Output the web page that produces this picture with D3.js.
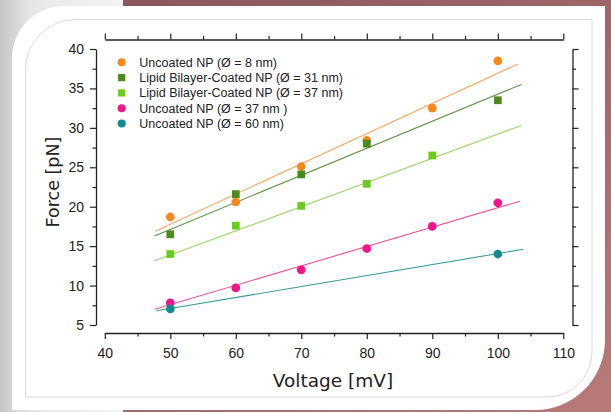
<!DOCTYPE html>
<html>
<head>
<meta charset="utf-8">
<script src="https://cdn.jsdelivr.net/npm/d3@7"></script>
<style>
  body { margin: 0; }
  svg { display: block; }
  .tick text { font-family: 'Liberation Sans', Arial, sans-serif; font-size: 14px; fill: #222; }
  .axisTitle { font-family: 'DejaVu Sans', Verdana, sans-serif; fill: #222; }
  .legendText { font-family: 'Liberation Sans', Arial, sans-serif; font-size: 12.5px; fill: #222; }
</style>
</head>
<body>
<svg id="chart"></svg>
<script>
// series names and colours
const seriesNames = [
  'Uncoated NP (Ø = 8 nm)',
  'Lipid Bilayer-Coated NP (Ø = 31 nm)',
  'Lipid Bilayer-Coated NP (Ø = 37 nm)',
  'Uncoated NP (Ø = 37 nm )',
  'Uncoated NP (Ø = 60 nm)'
];
const seriesShapes = ['circle', 'square', 'square', 'circle', 'circle'];
const markerColors = ['#f7871f', '#4d8a1c', '#6bcc1e', '#f0168a', '#148b8c'];
const lineColors = ['#f5a45c', '#5f8f40', '#9fd468', '#e9529a', '#3c9a9a'];

// measured points
const voltage8 = [50, 60, 70, 80, 90, 100];
const force8 = [18.7, 20.6, 25.1, 28.4, 32.5, 38.5];
const voltage31 = [50, 60, 70, 80, 100];
const force31 = [16.5, 21.6, 24.1, 28.0, 33.5];
const voltage37c = [50, 60, 70, 80, 90];
const force37c = [14.0, 17.6, 20.1, 22.9, 26.5];
const voltage37u = [50, 60, 70, 80, 90, 100];
const force37u = [7.8, 9.7, 12.0, 14.7, 17.5, 20.5];
const voltage60 = [50, 100];
const force60 = [7.05, 14.0];

// linear fit lines (start / end)
const fitVoltage = [[47.7, 103.1], [47.6, 103.6], [47.6, 103.6], [47.6, 103.4], [47.9, 103.9]];
const fitForce = [[16.9, 38.1], [16.3, 35.5], [13.15, 30.3], [7.0, 20.7], [6.8, 14.6]];

// axis ticks
const xMajor = [40, 50, 60, 70, 80, 90, 100, 110];
const xMinor = [45, 55, 65, 75, 85, 95, 105];
const yMajor = [5, 10, 15, 20, 25, 30, 35, 40];
const yMinor = [7.5, 12.5, 17.5, 22.5, 27.5, 32.5, 37.5];

const width = 611;
const height = 412;

const svg = d3.select('#chart')
  .attr('width', width)
  .attr('height', height);

const defs = svg.append('defs');

const bgGrad = defs.append('linearGradient')
  .attr('id', 'bgGrad')
  .attr('x1', 0).attr('y1', 0).attr('x2', 1).attr('y2', 1);
bgGrad.append('stop').attr('offset', '0%').attr('stop-color', '#84525a');
bgGrad.append('stop').attr('offset', '100%').attr('stop-color', '#b87a78');

const greyGrad = defs.append('linearGradient')
  .attr('id', 'greyGrad')
  .attr('x1', 0).attr('y1', 0).attr('x2', 1).attr('y2', 0);
greyGrad.append('stop').attr('offset', '0%').attr('stop-color', '#c6c6c6');
greyGrad.append('stop').attr('offset', '25%').attr('stop-color', '#e6e6e6');
greyGrad.append('stop').attr('offset', '100%').attr('stop-color', '#f4f4f4');

// background
svg.append('rect')
  .attr('width', width).attr('height', height)
  .attr('fill', 'url(#bgGrad)');

svg.append('rect')
  .attr('width', 123).attr('height', height)
  .attr('fill', 'url(#greyGrad)');

// white panel with two rounded corners
const panel = (x0, y0, x1, y1, r1, r2) =>
  `M${x0},${y0 + r1} A${r1},${r1} 0 0 1 ${x0 + r1},${y0} L${x1},${y0} L${x1},${y1 - r2} ` +
  `A${r2},${r2} 0 0 1 ${x1 - r2},${y1} L${x0},${y1} Z`;

svg.append('path')
  .attr('d', panel(12, 6, 605, 410, 52, 70))
  .attr('fill', '#fff');

svg.append('path')
  .attr('d', panel(25.5, 19.5, 592, 397, 50, 45))
  .attr('fill', 'none')
  .attr('stroke', '#d9d9d9')
  .attr('stroke-width', 1);

// scales
const x = d3.scaleLinear().domain([40, 110]).range([104.8, 563.3]);
const y = d3.scaleLinear().domain([5, 40]).range([325, 49]);

// axes (Origin style, offset from the data frame)
function drawAxis(axisFn, scale, tx, ty, labels) {
  const major = axisFn(scale)
    .tickValues(axisFn === d3.axisBottom || axisFn === d3.axisTop ? xMajor : yMajor)
    .tickSize(6)
    .tickSizeOuter(0)
    .tickPadding(axisFn === d3.axisBottom ? 9.5 : 6)
    .tickFormat(labels ? d3.format('d') : '');
  const minor = axisFn(scale)
    .tickValues(axisFn === d3.axisBottom || axisFn === d3.axisTop ? xMinor : yMinor)
    .tickSize(3.5)
    .tickFormat('');
  const g = svg.append('g').attr('transform', `translate(${tx},${ty})`).call(major);
  g.select('.domain').attr('stroke', '#222').attr('stroke-width', 1.3);
  g.selectAll('.tick line').attr('stroke', '#222').attr('stroke-width', 1.2);
  const gm = svg.append('g').attr('transform', `translate(${tx},${ty})`).call(minor);
  gm.select('.domain').remove();
  gm.selectAll('.tick line').attr('stroke', '#222').attr('stroke-width', 1.2);
}

drawAxis(d3.axisBottom, x, 0, 333, true);
drawAxis(d3.axisTop, x, 0, 39.5, false);
drawAxis(d3.axisLeft, y, 96, 0, true);
drawAxis(d3.axisRight, y, 572.5, 0, false);

// axis titles
svg.append('text')
  .attr('class', 'axisTitle')
  .attr('x', 333).attr('y', 387)
  .attr('text-anchor', 'middle')
  .style('font-size', '18.5px')
  .text('Voltage [mV]');

svg.append('text')
  .attr('class', 'axisTitle')
  .attr('transform', `translate(59,182) rotate(-90)`)
  .attr('text-anchor', 'middle')
  .style('font-size', '17.5px')
  .text('Force [pN]');

// fit lines
const fits = svg.append('g');
fitVoltage.forEach((fx, i) => {
  fits.append('line')
    .attr('x1', x(fx[0])).attr('y1', y(fitForce[i][0]))
    .attr('x2', x(fx[1])).attr('y2', y(fitForce[i][1]))
    .attr('stroke', lineColors[i])
    .attr('stroke-width', 1.1);
});

// markers
const seriesX = [voltage8, voltage31, voltage37c, voltage37u, voltage60];
const seriesY = [force8, force31, force37c, force37u, force60];

const symbolFor = (shape, big) => d3.symbol()
  .type(shape === 'circle' ? d3.symbolCircle : d3.symbolSquare)
  .size(shape === 'circle' ? (big ? 60 : 52) : (big ? 60 : 52));

const points = svg.append('g');
seriesX.forEach((xs, i) => {
  points.selectAll(null)
    .data(xs.map((v, j) => [v, seriesY[i][j]]))
    .enter()
    .append('path')
    .attr('d', symbolFor(seriesShapes[i], true)())
    .attr('transform', (d) => `translate(${x(d[0])},${y(d[1])})`)
    .attr('fill', markerColors[i]);
});

// legend
const legend = svg.append('g').attr('transform', 'translate(121.7,62.3)');
seriesNames.forEach((name, i) => {
  const row = legend.append('g').attr('transform', `translate(0,${i * 15.3})`);
  row.append('path')
    .attr('d', symbolFor(seriesShapes[i], false)())
    .attr('fill', markerColors[i]);
  row.append('text')
    .attr('class', 'legendText')
    .attr('x', 17.6)
    .attr('dy', '0.36em')
    .text(name);
});
</script>
</body>
</html>
